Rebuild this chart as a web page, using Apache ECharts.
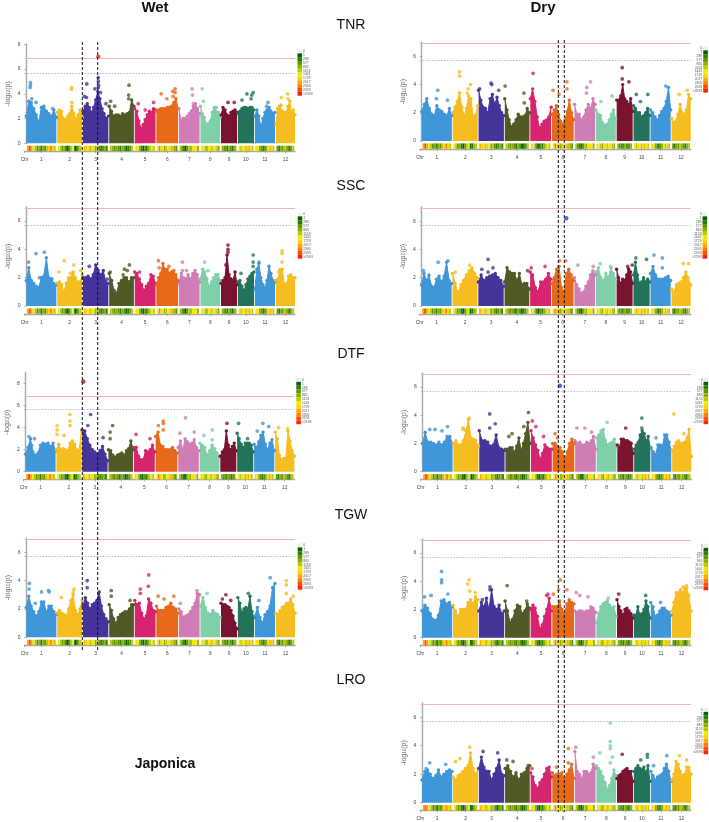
<!DOCTYPE html>
<html><head><meta charset="utf-8">
<style>html,body{margin:0;padding:0;background:#fff}#c{width:709px;height:822px;filter:blur(0.4px)}</style>
<script src="https://cdn.jsdelivr.net/npm/echarts@6/dist/echarts.min.js"></script>
</head><body><div id="c"></div>
<script>
const chromosomes=['1','2','3','4','5','6','7','8','9','10','11','12'];
const chromLengths=[43.3,35.9,36.4,35.5,29.9,31.2,29.7,28.4,23,23.2,29,27.5];
const chromColors=['#3f96d8','#f6bd20','#46349a','#4f5a26','#d6246e','#e76a1a','#d07db6','#7fcfa8','#7a1330','#22735a','#3f96d8','#f6bd20'];
const thresholds=[6.9,5.7];
const densityLabels=['0','1','289','577','865','1153','1441','1729','2017','2305','2593','>2593'];
const densityColors=['#efefef','#006400','#2f7d00','#5e9600','#8db000','#bccb00','#eeee00','#ffd400','#ffaa00','#ff7f00','#ff4c00','#ff2000'];
const densityBins=[[8,10,8,6,5,3,4,2,4,3,5,7,9,7,5],[6,5,3,4,2,1,3,5,6,1,2,4,5],[8,7,6,5,7,6,4,5,3,2,3,4,2],[5,4,3,4,3,2,4,3,1,2,3,5],[7,6,4,2,1,3,2,4,5,6,5],[6,9,7,6,4,5,6,7,8,5,4,3],[5,3,2,1,3,5,4,6,7,6,4],[7,6,5,4,6,7,5,6,7,5,4],[4,3,3,2,4,3,2,3,4],[6,5,7,6,5,7,8,6,5],[7,6,4,3,2,3,4,6,8,7,5],[3,2,4,3,5,4,3,2,4,5]];

const wetTNR=[[2.2,3.4,3.3,2.8,2.3,1.7,2.9,3.0,2.6,2.4,2.2,2.7,2.1],[2.5,2.7,2.6,2.0,1.9,2.2,2.4,3.0,2.4,2.0,2.3,2.7,2.1],[2.6,3.0,3.2,2.9,2.5,2.9,3.5,4.2,3.6,2.8,2.4,2.0,2.2],[3.0,2.6,2.2,2.3,2.3,2.2,2.4,2.3,2.4,2.5,3.5,3.0],[2.8,2.6,1.8,1.2,1.5,1.9,2.3,2.6,2.5,2.8,2.7],[2.6,2.7,2.8,2.8,2.8,2.9,2.9,3.0,3.3,3.6,2.8],[2.8,1.8,2.0,2.0,2.2,2.4,2.6,3.0,3.2,2.8,2.4],[3.0,2.4,2.1,1.5,1.6,1.8,2.5,2.9,2.9,2.5,2.1],[2.3,2.9,2.7,2.3,2.2,2.5,2.6,2.7,2.5],[2.4,2.6,2.8,2.9,2.9,2.8,2.9,2.9,2.7],[2.2,2.7,2.2,1.3,2.0,2.5,2.7,2.9,2.6,2.4,2.5],[1.5,2.8,3.0,3.1,2.6,2.5,2.5,3.0,3.4,2.4,2.7,2.3]];
const wetTNRtop=[[1,6,4.9],[1,6,4.7],[1,5.5,4.5],[1,8,3.6],[1,14,3.3],[1,38,2.8],[2,20.6,4.5],[2,20.6,4.35],[2,21,3.3],[3,5.5,4.8],[3,2,3.8],[3,5,3.7],[3,17,4.4],[3,22,5.3],[3,22,5.0],[3,22.3,4.7],[3,22,4.5],[3,25,4.1],[3,33,3.2],[4,2,3.4],[4,8,3.0],[4,28,3.9],[4,28,3.6],[4,28.5,4.7],[5,5,3.2],[5,27,3.3],[5,15,2.7],[6,7,4.0],[6,15,3.6],[6,23.5,4.2],[6,27,4.4],[6,27,4.1],[6,24,3.8],[7,18.8,4.4],[7,19.5,3.9],[7,21,3.2],[8,2.5,4.4],[8,4.5,3.4],[9,10,3.3],[9,19,3.3],[10,13,4.0],[10,6,3.5],[10,20,3.9],[10,22,4.1],[10,19,3.6],[11,19,3.3],[11,17,3.0],[12,8,3.7],[12,17,4.0],[12,17.5,3.6]];
const wetTNRhit=[[3,22,7.0,'#e5281e']];

const wetSSC=[[1.8,2.7,1.8,1.6,1.4,1.3,2.0,2.1,3.4,2.0,1.9,1.6,1.5],[1.6,1.7,1.5,1.0,1.6,2.0,2.0,2.4,2.0,1.7,1.7,2.2],[2.0,2.0,2.1,1.9,2.2,2.9,2.5,2.2,2.5,1.7,1.6],[2.3,1.8,1.1,0.9,1.6,1.8,2.0,2.0,1.7,2.0,2.0],[2.4,2.3,1.9,1.5,1.1,1.4,1.6,2.2,2.1,1.6],[1.5,2.0,2.3,3.0,2.6,2.6,2.3,2.4,2.5,2.2,1.8],[1.6,2.3,2.0,1.9,2.2,1.9,2.3,2.5,2.2,1.7],[1.9,2.6,2.4,1.9,1.4,1.7,2.0,2.2,2.2,1.8],[1.6,1.8,2.0,3.6,2.2,1.9,1.8,2.4,1.5],[1.7,1.8,1.4,1.1,1.5,1.9,2.1,2.3,2.4],[1.2,2.6,3.0,2.0,1.5,1.3,1.8,2.8,2.3,1.8,1.7],[1.8,1.9,2.6,2.6,1.5,1.6,2.1,2.2,2.0,2.0]];
const wetSSCtop=[[1,3.4,3.1],[1,14,3.7],[1,26,3.8],[1,19,2.0],[1,37,1.9],[2,10,3.2],[2,2.5,2.4],[2,24,2.9],[2,33.5,2.5],[2,19,2.3],[3,9,2.8],[3,35,1.9],[4,1.5,2.4],[4,22,2.6],[4,29,2.9],[4,26,2.5],[4,20,2.2],[5,7,2.4],[6,3,3.2],[6,4,2.7],[6,18,2.8],[7,5,3.1],[7,5,2.5],[7,11,2.5],[8,6,3.1],[8,11,2.5],[9,10,4.3],[9,10,4.0],[9,10,3.8],[9,7,2.9],[10,4.5,2.3],[10,22,3.6],[10,22,3.1],[10,22,2.8],[11,6,3.1],[12,9,3.9],[12,9,3.7],[12,9,3.1],[12,4,2.4]];
const wetSSChit=[];

const wetDTF=[[1.6,2.2,3.0,1.8,1.5,1.7,2.4,2.6,2.5,2.6,2.3,2.6,1.9],[2.0,2.5,2.0,2.1,2.0,1.9,2.6,2.8,2.5,2.0,1.9,3.8],[3.8,3.7,3.0,2.4,2.0,1.8,1.6,1.9,2.3,1.6,1.0],[2.0,1.9,1.5,1.3,1.5,1.6,1.7,1.5,1.9,2.1,2.8,2.0],[2.2,2.2,1.4,1.1,1.1,1.9,1.8,2.0,2.4,1.8],[3.2,3.6,2.4,2.3,2.0,2.0,2.0,2.2,1.9,1.7],[2.2,2.8,2.0,3.0,2.7,2.5,2.6,2.9,2.2,1.9],[2.6,2.4,2.2,1.5,1.9,2.4,2.1,1.7,1.4],[1.4,1.8,2.0,3.7,2.4,2.0,2.3,2.6,1.9],[3.5,3.0,2.5,2.2,2.6,2.6,2.6,2.4,1.8],[2.5,2.2,2.7,3.3,3.6,2.5,2.0,2.6,2.9,1.9],[3.6,3.0,1.5,1.1,1.2,1.2,3.7,2.8,1.9,1.4]];
const wetDTFtop=[[1,5,3.2],[1,13,3.0],[1,9,2.4],[2,1,4.2],[2,1,3.8],[2,1,3.4],[2,11,3.3],[2,19.5,5.2],[2,19.5,4.6],[2,19.5,4.2],[3,8,4.2],[3,12,5.2],[3,30,3.1],[4,6,4.2],[4,2.5,3.6],[4,2.5,3.0],[5,3,3.4],[5,23,3.0],[6,4,4.2],[6,11,4.6],[6,11,4.4],[6,11,3.8],[7,10.5,4.9],[7,23,3.6],[7,2.5,3.5],[8,6,3.3],[8,18,3.8],[8,18,2.9],[9,9.5,4.4],[10,2,4.4],[10,15,3.0],[11,4.5,3.7],[11,12.5,4.4],[11,21,4.1],[12,5,4.0],[12,18,3.9]];
const wetDTFhit=[[3,1.5,8.2,'#a3121e']];

const wetTGW=[[2.1,2.9,2.2,1.8,1.5,1.8,2.5,2.5,1.8,2.2,2.2,1.8,1.6],[1.7,1.9,1.7,1.6,1.5,2.0,2.6,3.0,1.9,1.6,2.0,2.6],[2.2,2.8,2.4,2.0,2.3,2.4,2.6,3.2,2.2,1.6,1.3,1.1],[2.3,1.9,1.3,1.0,1.4,1.6,1.7,1.8,1.8,2.0,2.3,2.3],[2.6,2.3,2.4,1.7,1.3,1.5,2.7,2.4,1.9,1.8],[2.2,1.9,1.9,1.9,2.1,2.2,2.4,2.1,2.0,1.7],[2.0,1.8,1.4,1.5,1.6,1.8,2.1,2.4,3.1,3.0],[2.2,2.8,2.1,1.7,1.6,1.9,1.7,1.6,1.4],[2.4,2.3,2.3,2.2,2.1,1.9,1.5,1.0,0.6],[2.8,2.4,1.7,2.0,2.1,2.0,2.9,1.8,1.4],[1.5,2.1,1.4,1.0,1.6,1.8,2.2,3.5,3.8],[1.7,1.6,1.9,2.1,2.2,2.4,2.4,2.7,2.3,1.7]];
const wetTGWtop=[[1,4.5,3.8],[1,4,3.4],[1,22,3.2],[1,32,3.3],[1,33,3.2],[1,13,2.4],[2,6,2.8],[2,24,3.4],[2,23,3.2],[3,6,4.0],[3,6,3.5],[4,3,3.3],[4,3,2.9],[4,30,2.6],[5,20,4.4],[5,19.5,3.6],[5,8,3.4],[5,8,3.1],[6,2.5,2.9],[6,25,2.9],[6,11,2.7],[7,26,3.3],[7,2,2.4],[8,9.5,3.1],[8,4,2.5],[9,7,3.0],[9,2,2.7],[9,14,2.6],[10,15,3.1],[11,6,2.6],[11,22,4.2],[12,15,4.0],[12,15,3.7],[12,15,3.1],[12,25,2.9]];
const wetTGWhit=[];

const dryTNR=[[2.1,2.6,3.0,2.3,1.9,1.8,2.5,2.2,2.1,1.9,1.8,2.3,1.8],[2.0,2.4,2.8,3.4,2.4,1.8,2.3,3.2,3.0,1.7,1.8,2.5],[3.6,2.9,2.4,2.3,2.0,3.0,3.3,2.6,3.1,2.5,2.0,1.8],[3.0,2.2,1.5,1.0,1.2,1.5,1.9,1.7,1.7,1.8,2.3,2.0],[3.0,3.7,2.8,1.7,0.9,1.2,1.4,1.5,1.7,2.4],[1.9,2.2,2.5,1.9,1.4,1.2,1.5,2.1,2.9,2.0,1.5],[2.6,1.9,1.9,1.5,1.7,2.2,2.6,2.3,3.0,2.6],[2.2,1.9,1.8,1.3,1.1,1.2,1.5,1.9,2.2,1.5],[2.9,2.9,3.2,4.0,3.0,2.8,2.6,3.0,2.1],[2.5,2.3,2.0,2.0,1.7,1.8,2.0,2.3,1.8],[2.2,2.0,1.7,1.5,1.8,2.1,2.3,2.8,3.8,2.2],[1.6,1.3,1.4,1.9,2.6,2.0,1.9,2.2,3.3,3.0]];
const dryTNRtop=[[1,23,3.6],[1,21,3.0],[1,37,2.9],[2,10,4.9],[2,10,4.6],[2,25.5,4.0],[2,22,3.7],[2,21,3.4],[3,18,4.1],[3,19,4.0],[3,1.5,3.7],[3,29,3.6],[4,0.5,3.9],[4,27.5,3.4],[4,28,2.7],[5,4,4.8],[6,1.5,3.6],[6,10,3.3],[6,21.5,4.2],[6,21.5,3.7],[7,23,4.2],[7,17.5,3.8],[7,17,3.4],[8,7,2.8],[8,23,3.2],[9,8,5.2],[9,8,4.4],[9,17.5,4.2],[10,4,3.3],[10,20.5,3.3],[10,10,2.8],[11,22,3.9],[12,11,3.3],[12,22.5,3.6]];
const dryTNRhit=[];

const drySSC=[[1.5,2.3,1.8,2.2,1.4,1.3,1.9,2.1,1.7,2.1,3.1,1.8,1.6],[2.3,1.6,0.9,1.5,1.8,2.2,2.5,2.7,2.3,2.0],[1.7,2.2,1.8,2.0,2.1,2.2,2.3,2.0,1.8,1.4],[1.7,2.7,2.4,2.3,2.3,1.8,2.3,1.5,1.6,1.6,1.2],[2.4,2.2,1.3,1.0,1.7,1.7,1.9,2.3,1.9],[1.6,2.0,2.6,2.8,1.3,1.0,2.3,2.6,2.2,1.8],[2.0,1.5,1.2,0.9,1.0,1.4,1.7,2.2,2.5,2.2],[2.4,2.7,2.0,1.8,2.3,2.0,2.7,2.3,1.9],[2.6,2.0,1.6,1.9,1.8,2.2,2.6,2.4,1.6],[2.2,3.1,2.2,1.6,1.7,2.0,1.7,1.9,1.7],[2.3,2.8,2.2,1.9,1.9,1.9,2.0,2.1,1.8],[1.2,1.0,1.5,1.6,1.7,2.0,2.4,2.0,1.5]];
const drySSCtop=[[1,3,2.5],[1,24,3.1],[1,38,3.2],[1,35,2.0],[2,24.5,2.9],[2,4,2.4],[3,14,3.3],[3,21,2.7],[3,5,2.6],[3,14,2.4],[4,33,2.5],[5,1.5,2.7],[5,21.5,2.8],[6,11,3.2],[6,20,3.2],[7,5,2.9],[7,27,2.8],[8,6,3.0],[8,21,2.8],[9,16,2.8],[9,22.5,2.9],[10,3.5,3.4],[10,18.7,3.3],[11,5,3.6],[11,17,3.4],[11,17,2.7],[12,17,3.0],[12,24.5,3.0]];
const drySSChit=[[6,20.7,6.2,'#1f3fe0']];

const dryDTF=[[2.0,2.8,2.1,2.1,2.0,1.9,2.1,1.9,2.1,2.5,2.5,2.0],[2.0,2.2,1.9,1.9,2.2,2.9,3.7,2.4,2.3,2.2,1.8],[2.9,2.2,2.2,2.1,1.8,1.9,2.6,1.7,1.6,1.5],[1.6,1.6,1.7,1.7,1.4,1.8,2.4,1.5,2.0,2.7,3.5,2.0],[2.9,2.4,1.9,1.5,0.9,1.3,1.9,1.7,1.6,1.6],[2.0,2.0,1.8,1.7,1.4,0.9,1.4,2.0,2.3,2.0],[2.2,2.0,2.1,1.9,1.9,2.1,2.0,2.2,2.5,1.6],[2.4,2.6,2.9,3.0,2.2,1.9,2.0,2.1,2.3,1.7],[1.9,1.7,2.3,2.3,2.2,2.2,2.1,2.0,1.3],[1.6,1.9,2.1,2.6,2.9,2.7,2.2,2.5,1.7],[1.7,1.4,1.2,1.9,1.9,1.8,2.6,2.6,2.1,1.5],[1.5,1.8,2.1,2.2,2.0,2.0,2.1,2.4,3.0,1.1]];
const dryDTFtop=[[1,10.5,3.0],[1,18,3.0],[1,36,3.2],[1,28,2.9],[2,22.5,3.8],[2,14,3.1],[2,14,3.0],[3,15,4.1],[3,23,3.4],[3,15,3.1],[4,33,4.2],[4,26.5,3.2],[4,9.5,2.7],[4,5,2.5],[5,2,3.6],[5,7,3.2],[5,18,2.5],[6,3.5,2.7],[6,7,2.4],[7,2.5,3.1],[7,14,3.1],[7,23.5,2.8],[8,15,3.5],[9,12,3.1],[10,11,3.8],[10,11,3.1],[11,7,2.4],[12,2.5,4.1],[12,17,2.7]];
const dryDTFhit=[[6,10.5,6.1,'#1f3fe0']];

const dryTGW=[[1.9,2.3,2.1,1.7,1.3,1.2,1.6,2.6,2.7,2.4,2.5,2.2],[2.3,1.9,1.5,2.0,2.0,2.0,2.5,2.7,2.4,2.9,2.7],[1.9,2.5,2.2,2.8,2.0,3.4,2.2,2.0,2.3,1.7,1.9],[2.6,1.9,1.1,1.3,1.9,2.3,2.2,1.7,1.9,2.4,2.1],[2.0,2.3,2.1,1.5,0.6,0.9,1.5,2.0,2.8,1.9],[2.2,2.2,2.2,2.6,2.0,1.6,2.4,2.7,2.5,2.4],[1.9,1.8,1.9,1.9,1.8,1.9,1.9,2.2,2.1,1.8],[1.1,1.7,2.2,2.4,2.5,2.6,2.3,2.1,2.2,1.5],[2.7,2.2,1.9,1.6,2.0,2.1,1.9,1.7,1.4],[1.6,1.6,2.2,1.6,1.7,2.0,2.6,2.2,1.4],[2.5,2.2,1.5,1.6,1.9,2.1,2.1,1.9,1.8,1.6],[1.9,2.5,3.2,3.2,3.4,3.2,3.5,3.5,3.0,1.9]];
const dryTGWtop=[[1,13,3.0],[1,3.5,2.9],[1,28,4.7],[1,28,4.1],[1,28,3.9],[1,37,3.1],[2,23,4.1],[2,21,3.8],[2,24,3.3],[2,32,3.2],[3,16,3.6],[3,16,3.4],[3,5,2.7],[4,3,3.7],[4,31,2.6],[5,25,3.1],[5,23,3.0],[6,1.5,3.1],[6,9,3.4],[6,11.5,4.1],[6,21,3.4],[7,2,3.2],[7,7,3.0],[7,19,2.9],[8,17,2.8],[9,2.5,3.1],[10,17,3.0],[11,14,2.5],[12,21,3.7],[12,16,3.6]];
const dryTGWhit=[];

const dryLRO=[[1.6,2.2,2.3,2.0,1.7,1.9,2.3,1.8,2.0,2.2,2.3,2.2],[1.8,1.6,1.9,2.0,2.2,2.4,2.6,3.5,2.4,2.0,2.4],[2.4,3.2,2.5,2.2,2.2,1.6,2.0,2.4,3.0,2.0,1.9],[2.4,2.6,2.2,1.8,2.1,1.6,2.0,2.1,2.4,2.6],[2.1,1.8,1.2,1.0,1.4,1.6,2.0,2.4,2.5,1.8],[2.1,1.9,2.0,2.0,2.1,1.6,2.0,2.3,2.7,1.7],[3.6,2.2,2.0,1.7,2.2,2.2,2.0,2.1,2.7,2.4],[2.6,2.4,2.2,1.8,1.4,0.9,1.2,1.7,2.3,1.9],[1.7,1.9,2.0,2.2,2.3,2.4,2.2,2.2,1.5],[2.2,2.4,2.6,2.4,2.3,2.5,2.1,2.6,1.5],[2.2,1.9,1.6,1.8,1.9,2.0,2.4,2.7,2.2,1.5],[1.6,2.0,2.9,2.7,2.2,1.9,2.0,2.5,2.5,2.0]];
const dryLROtop=[[1,11,2.8],[1,6,2.4],[1,34,2.7],[2,24,3.9],[2,10,3.1],[2,3.5,2.9],[3,6,3.6],[3,27,3.5],[4,2.5,3.0],[4,11.5,2.9],[4,33,2.6],[5,2,2.4],[6,6,2.5],[6,23,3.8],[6,23,2.8],[7,1.5,3.9],[7,26.5,3.2],[8,20,5.6],[8,20,4.3],[8,20,4.0],[8,20,3.8],[8,5,3.5],[8,23,3.2],[8,20,2.8],[9,7.5,3.4],[10,19.5,3.4],[10,19.5,3.2],[10,10,3.0],[11,23,3.3],[11,4,2.6],[12,11,3.3],[12,21,3.0]];
const dryLROhit=[];

// layout only: axis x, data end x, top y, zero y, y max, legend x, legend y
const panels=[
 {p:wetTNR,t:wetTNRtop,h:wetTNRhit,ax:24.5,ex:295,top:44.3,y0:143.3,max:8,lx:297.5,ly:49.5},
 {p:wetSSC,t:wetSSCtop,h:wetSSChit,ax:24.5,ex:295,top:206.8,y0:306,max:7,lx:297.7,ly:212.5},
 {p:wetDTF,t:wetDTFtop,h:wetDTFhit,ax:23.7,ex:294.3,top:372.7,y0:471.7,max:9,lx:296.3,ly:378},
 {p:wetTGW,t:wetTGWtop,h:wetTGWhit,ax:24.5,ex:295,top:538,y0:637.3,max:7,lx:297.7,ly:543.5},
 {p:dryTNR,t:dryTNRtop,h:dryTNRhit,ax:420,ex:690.7,top:42.3,y0:141,max:7,lx:692.7,ly:46.5},
 {p:drySSC,t:drySSCtop,h:drySSChit,ax:419.7,ex:690.7,top:207,y0:306,max:7,lx:692,ly:212.5},
 {p:dryDTF,t:dryDTFtop,h:dryDTFhit,ax:420.7,ex:691.3,top:373,y0:471.7,max:7,lx:693,ly:378},
 {p:dryTGW,t:dryTGWtop,h:dryTGWhit,ax:420.3,ex:691,top:539,y0:637.7,max:7,lx:693,ly:544},
 {p:dryLRO,t:dryLROtop,h:dryLROhit,ax:420.3,ex:691,top:703,y0:802.7,max:7,lx:693,ly:708}
];
const GAP=1.2, XMIN=-2.5, INSET=1;
const offsets=[];let cum=0;
chromLengths.forEach(l=>{offsets.push(cum);cum+=l+GAP;});
const total=cum-GAP;
const mids=chromLengths.map((l,i)=>offsets[i]+l/2);
const stripData=[];
densityBins.forEach((bins,c)=>bins.forEach((lv,i)=>{
  const w=(chromLengths[c]-2*INSET)/bins.length, s=offsets[c]+INSET;
  stripData.push([s+i*w,s+(i+1)*w,lv]);
}));
const pieces=densityLabels.map((label,i)=>({value:i,label,color:densityColors[i]}));

const grid=[],xAxis=[],yAxis=[],series=[],visualMap=[];
panels.forEach((P,k)=>{
  const gm=2*k,gs=2*k+1,left=P.ax,width=P.ex-P.ax;
  grid.push({left,top:P.top,width,height:P.y0-P.top});
  grid.push({left,top:P.y0+2.4,width,height:5.4});
  xAxis.push({gridIndex:gm,type:'value',min:XMIN,max:total,show:false});
  const labelled=[XMIN].concat(mids);
  xAxis.push({gridIndex:gs,type:'value',min:XMIN,max:total,offset:1.5,position:'bottom',splitLine:{show:false},
    axisLine:{show:true,lineStyle:{color:'#a8a8a8',width:1.4}},
    axisTick:{show:true,length:2,customValues:labelled,lineStyle:{color:'#888',width:0.6}},
    axisLabel:{show:true,customValues:labelled,margin:4.5,fontSize:4.8,color:'#444',fontFamily:'Liberation Sans',hideOverlap:false,
      formatter:v=>{if(v<0)return 'Chr';const i=mids.findIndex(m=>Math.abs(m-v)<1e-6);return i>=0?chromosomes[i]:'';}}});
  const ticks=[];for(let v=0;v<=P.max;v+=2)ticks.push(v);
  yAxis.push({gridIndex:gm,type:'value',min:0,max:P.max,splitLine:{show:false},
    axisLine:{show:true,lineStyle:{color:'#a8a8a8',width:1.4}},
    axisTick:{show:true,length:2,customValues:ticks,lineStyle:{color:'#888',width:0.6}},
    axisLabel:{show:true,customValues:ticks,margin:4,fontSize:5,color:'#444',fontFamily:'Liberation Sans'},
    name:'-log{s|10}(p)',nameLocation:'middle',nameGap:13,nameRotate:90,
    nameTextStyle:{fontSize:7,color:'#666',fontFamily:'Liberation Sans',rich:{s:{fontSize:4.5,color:'#666',verticalAlign:'bottom'}}}});
  yAxis.push({gridIndex:gs,type:'value',min:0,max:1,show:false});
  // chromosome masses
  P.p.forEach((vals,c)=>{
    series.push({type:'line',xAxisIndex:gm,yAxisIndex:gm,silent:true,
      data:vals.map((v,i)=>[offsets[c]+chromLengths[c]*i/(vals.length-1),v]),
      symbol:'circle',symbolSize:3.4,showAllSymbol:true,clip:false,
      lineStyle:{color:chromColors[c],width:1},itemStyle:{color:chromColors[c]},
      areaStyle:{color:chromColors[c],opacity:1},z:2});
  });
  // isolated top markers and threshold lines
  series.push({type:'scatter',xAxisIndex:gm,yAxisIndex:gm,silent:true,symbolSize:3.7,z:3,
    data:P.t.map(d=>[offsets[d[0]-1]+d[1],d[2],d[0]-1]),
    itemStyle:{color:p=>chromColors[p.data[2]]},
    markLine:{silent:true,symbol:'none',animation:false,label:{show:false},
      data:[{yAxis:thresholds[0],lineStyle:{color:'#f6b4b8',width:1.1,type:'solid'}},
            {yAxis:thresholds[1],lineStyle:{color:'#aeb2e6',width:0.9,type:[1.5,1.5]}}]}});
  series.push({type:'scatter',xAxisIndex:gm,yAxisIndex:gm,silent:true,symbolSize:4.4,z:4,
    data:P.h.map(d=>[offsets[d[0]-1]+d[1],d[2],d[3]]),
    itemStyle:{color:p=>p.data[2]}});
  // density strip
  const stripIndex=series.length;
  series.push({type:'custom',xAxisIndex:gs,yAxisIndex:gs,silent:true,data:stripData,
    encode:{x:[0,1]},
    renderItem:(params,api)=>{
      const a=api.coord([api.value(0),1]),b=api.coord([api.value(1),0]);
      return {type:'rect',shape:{x:a[0],y:a[1],width:b[0]-a[0],height:b[1]-a[1]},style:{fill:api.visual('color')}};
    }});
  visualMap.push({type:'piecewise',seriesIndex:stripIndex,dimension:2,pieces,orient:'vertical',inverse:true,
    left:P.lx,top:P.ly,padding:0,itemWidth:4.6,itemHeight:3.85,itemGap:0,textGap:1,itemSymbol:'rect',
    selectedMode:false,hoverLink:false,showLabel:true,
    textStyle:{fontSize:3.4,color:'#555',fontFamily:'Liberation Sans'}});
});

const txt=(x,y,text,size,weight)=>({type:'text',x,y,z:20,silent:true,style:{text,x:0,y:0,align:'center',verticalAlign:'middle',
  fontSize:size,fontWeight:weight,fontFamily:'Liberation Sans',fill:'#111'}});
const vline=(x,a,b)=>({type:'line',z:20,silent:true,shape:{x1:x,y1:a,x2:x,y2:b},style:{stroke:'#111',lineWidth:1,lineDash:[3,2]}});
const graphic=[
  txt(155,8,'Wet',15,'bold'),txt(543,8,'Dry',15,'bold'),
  txt(351,25,'TNR',14,'normal'),txt(351,186,'SSC',14,'normal'),txt(351,354,'DTF',14,'normal'),txt(351,515,'TGW',14,'normal'),txt(351,680,'LRO',14,'normal'),
  txt(165,764,'Japonica',14,'bold'),
  vline(82.3,42,652),vline(97.7,42,652),vline(558.3,40,812),vline(564.3,40,812)
];

const chart=echarts.init(document.getElementById('c'),null,{renderer:'canvas'});
chart.setOption({animation:false,backgroundColor:'#fff',grid,xAxis,yAxis,series,visualMap,graphic});
</script></body></html>
